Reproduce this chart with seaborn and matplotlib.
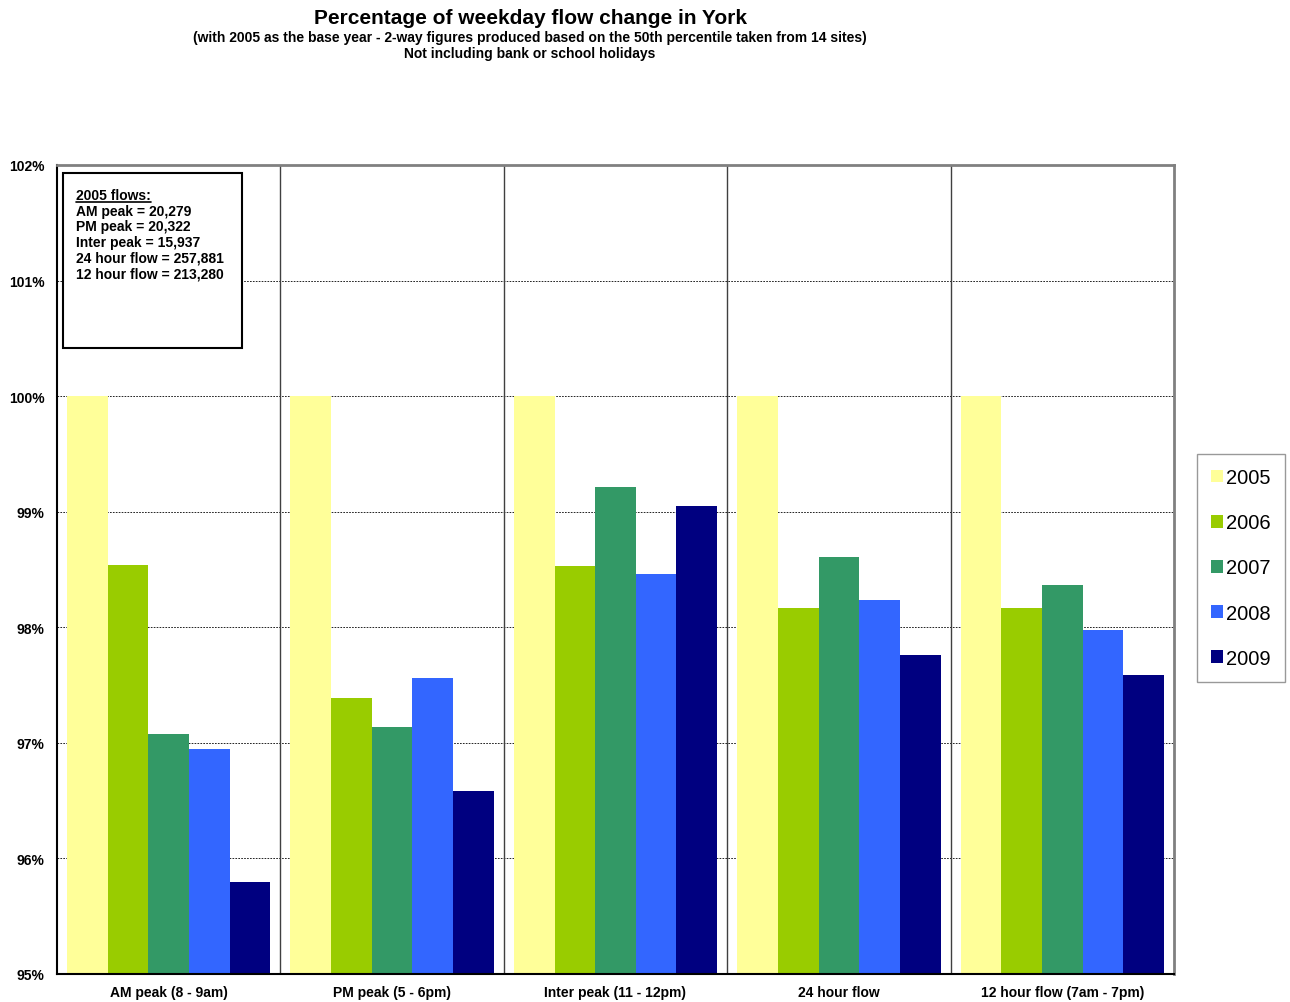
import pandas as pd
import seaborn as sns
import matplotlib.pyplot as plt
from matplotlib.lines import Line2D
from matplotlib.ticker import FixedLocator

categories = ["AM peak (8 - 9am)", "PM peak (5 - 6pm)", "Inter peak (11 - 12pm)",
              "24 hour flow", "12 hour flow (7am - 7pm)"]
years = ["2005", "2006", "2007", "2008", "2009"]
v2005 = [100.00, 100.00, 100.00, 100.00, 100.00]
v2006 = [98.54, 97.39, 98.53, 98.17, 98.17]
v2007 = [97.08, 97.14, 99.21, 98.61, 98.37]
v2008 = [96.95, 97.56, 98.46, 98.24, 97.98]
v2009 = [95.80, 96.58, 99.05, 97.76, 97.59]
colors = ["#FFFF99", "#99CC00", "#339966", "#3366FF", "#000080"]

rows = []
for yr, vals in zip(years, [v2005, v2006, v2007, v2008, v2009]):
    for cat, v in zip(categories, vals):
        rows.append({"Category": cat, "Year": yr, "Value": v})
df = pd.DataFrame(rows)

sns.set_style("white")
plt.rcParams["font.family"] = ["Liberation Sans", "DejaVu Sans"]
plt.rcParams["text.color"] = "black"
plt.rcParams["xtick.color"] = "black"
plt.rcParams["ytick.color"] = "black"
plt.rcParams["xtick.labelcolor"] = "black"
plt.rcParams["ytick.labelcolor"] = "black"

W, H = 1290, 1003
fig = plt.figure(figsize=(W / 100, H / 100), dpi=100)
ax = fig.add_axes([57 / W, 1 - 975 / H, (1174 - 57) / W, (975 - 166) / H])

sns.barplot(data=df, x="Category", y="Value", hue="Year", palette=colors,
            width=0.91, gap=0, saturation=1, ax=ax, linewidth=0, errorbar=None)

ax.set_ylim(95, 102)
ax.set_xlim(-0.5, len(categories) - 0.5)
ax.set_yticks(range(95, 103))
ax.set_yticklabels([f"{t}%" for t in range(95, 103)], fontsize=10, fontweight="bold")
ax.set_xticks(range(len(categories)))
ax.set_xticklabels(categories, fontsize=10, fontweight="bold")
ax.tick_params(axis="x", which="major", length=0, pad=8)
ax.xaxis.set_minor_locator(FixedLocator([i + 0.5 for i in range(-1, len(categories))]))
ax.tick_params(axis="x", which="minor", length=6, width=1, color="black", direction="out")
ax.tick_params(axis="y", length=5, width=1, color="black", direction="out", pad=4)
ax.set_xlabel("")
ax.set_ylabel("")

for y in range(96, 102):
    ax.axhline(y, color="black", lw=0.6, ls=(0, (2, 1.5)), zorder=0)
for x in [0.5, 1.5, 2.5, 3.5]:
    ax.axvline(x, color="#404040", lw=1, zorder=0)

for side in ["left", "bottom"]:
    ax.spines[side].set_color("black")
    ax.spines[side].set_linewidth(1.5)
for side in ["top", "right"]:
    ax.spines[side].set_color("#808080")
    ax.spines[side].set_linewidth(2)

handles, labels = ax.get_legend_handles_labels()
leg = ax.legend(handles, labels, loc="upper left", bbox_to_anchor=(1197 / W, 1 - 455 / H),
                bbox_transform=fig.transFigure, fontsize=14.5, frameon=True, fancybox=False,
                handlelength=0.6, handleheight=0.6, handletextpad=0.15, labelspacing=1.3,
                borderpad=0.7, borderaxespad=0)
leg.get_frame().set_edgecolor("#808080")
leg.get_frame().set_linewidth(1)

# 2005 flows text box
box = plt.Rectangle((63 / W, 1 - 349 / H), (242 - 63) / W, (349 - 174) / H,
                    transform=fig.transFigure, facecolor="white",
                    edgecolor="black", lw=1.5, zorder=2)
fig.patches.append(box)
info = ("2005 flows:\nAM peak = 20,279\nPM peak = 20,322\nInter peak = 15,937\n"
        "24 hour flow = 257,881\n12 hour flow = 213,280")
fig.text(76 / W, 1 - 189 / H, info, fontsize=10, fontweight="bold",
         va="top", ha="left", linespacing=1.15, zorder=3)
fig.lines.append(Line2D([76 / W, 151 / W], [1 - 203 / H, 1 - 203 / H],
                        transform=fig.transFigure, color="black", lw=1.2, zorder=3))

fig.text(530 / W, 1 - 18 / H, "Percentage of weekday flow change in York",
         fontsize=15, fontweight="bold", ha="center", va="center")
fig.text(530 / W, 1 - 38 / H,
         "(with 2005 as the base year - 2-way figures produced based on the 50th percentile taken from 14 sites)",
         fontsize=10, fontweight="bold", ha="center", va="center")
fig.text(530 / W, 1 - 54 / H, "Not including bank or school holidays",
         fontsize=10, fontweight="bold", ha="center", va="center")

fig.savefig("out.png", dpi=100)
